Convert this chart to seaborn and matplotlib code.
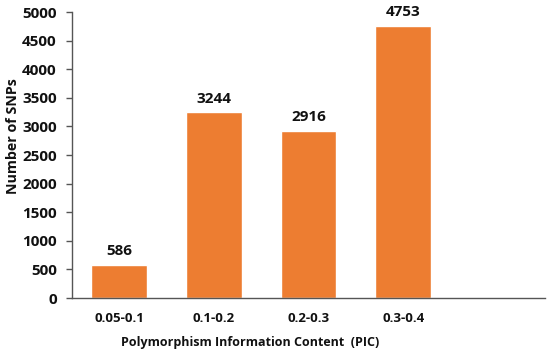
import matplotlib
matplotlib.use("Agg")
import matplotlib.pyplot as plt
import seaborn as sns
import pandas as pd

categories = ["0.05-0.1", "0.1-0.2", "0.2-0.3", "0.3-0.4"]
values = [586, 3244, 2916, 4753]
yticks = [0, 500, 1000, 1500, 2000, 2500, 3000, 3500, 4000, 4500, 5000]

sns.set_style("white")
plt.rcParams['font.family'] = ['Open Sans', 'DejaVu Sans']
plt.rcParams['text.color'] = '#111111'
plt.rcParams['xtick.color'] = '#111111'
plt.rcParams['ytick.color'] = '#111111'
plt.rcParams['axes.labelcolor'] = '#111111'

df = pd.DataFrame({"PIC": categories, "SNPs": values})

fig = plt.figure(figsize=(5.5, 3.54), dpi=100)
ax = fig.add_axes([0.131, 0.158, 0.860, 0.808])
sns.barplot(data=df, x="PIC", y="SNPs", color="#ED7D31", saturation=1,
            width=0.59, ax=ax)
ax.set_xlim(-0.5, 4.5)
ax.set_ylim(0, 5000)
ax.set_yticks(yticks)
ax.set_yticklabels([str(t) for t in yticks], fontsize=11, fontweight="bold")
for lbl in ax.get_xticklabels():
    lbl.set_fontsize(9.5)
    lbl.set_fontweight("bold")
ax.tick_params(axis="x", length=0, pad=10)
ax.tick_params(axis="y", length=4, width=1, color="#555555", direction="out", pad=7)
ax.yaxis.set_ticks_position("left")
for s in ["top", "right"]:
    ax.spines[s].set_visible(False)
for s in ["left", "bottom"]:
    ax.spines[s].set_color("#555555")
    ax.spines[s].set_linewidth(1)
ax.set_xlabel("Polymorphism Information Content  (PIC)", fontsize=9,
              fontweight="bold")
ax.xaxis.set_label_coords(0.376, -0.133)
ax.set_ylabel("Number of SNPs", fontsize=10.3, fontweight="bold")
ax.yaxis.set_label_coords(-0.110, 0.566)
for i, v in enumerate(values):
    ax.text(i, v + 120, str(v), ha="center", va="bottom", fontsize=11,
            fontweight="bold")
fig.savefig("out.png", dpi=100)
